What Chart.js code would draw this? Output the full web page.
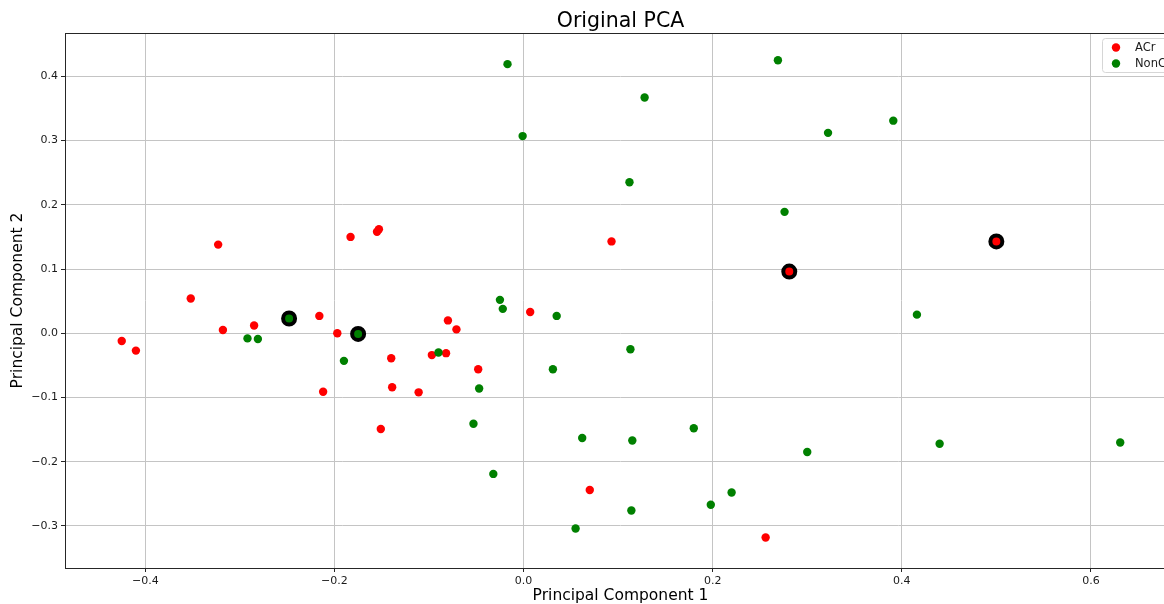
<!DOCTYPE html>
<html>
<head>
<meta charset="utf-8">
<script src="https://cdn.jsdelivr.net/npm/chart.js@4/dist/chart.umd.min.js"></script>
<style>
  html, body { margin: 0; padding: 0; background: #ffffff; overflow: hidden; }
  #c { display: block; }
</style>
</head>
<body>
<canvas id="c" width="1186" height="604"></canvas>
<script>
// PCA scores, class ACr
const acrPC1 = [-0.425, -0.410, -0.352, -0.323, -0.318, -0.285, -0.216, -0.212, -0.197, -0.183,
                -0.155, -0.153, -0.151, -0.140, -0.139, -0.111, -0.097, -0.082, -0.080, -0.071,
                -0.048, 0.007, 0.093, 0.070, 0.256];
const acrPC2 = [-0.012, -0.027, 0.054, 0.138, 0.005, 0.012, 0.027, -0.091, 0.000, 0.150,
                0.158, 0.162, -0.149, -0.039, -0.084, -0.092, -0.034, -0.031, 0.020, 0.006,
                -0.056, 0.033, 0.143, -0.244, -0.318];

// PCA scores, class NonCr
const nonCrPC1 = [-0.292, -0.281, -0.190, -0.090, -0.047, -0.053, -0.025, -0.022, 0.035, 0.031,
                  -0.032, 0.062, -0.017, 0.128, -0.001, 0.112, 0.115, 0.180, 0.114, 0.055,
                  0.198, 0.220, 0.269, 0.322, 0.391, 0.276, 0.416, 0.300, 0.440, 0.631, 0.113];
const nonCrPC2 = [-0.008, -0.009, -0.043, -0.030, -0.086, -0.141, 0.052, 0.038, 0.027, -0.056,
                  -0.219, -0.163, 0.419, 0.367, 0.307, 0.235, -0.167, -0.148, -0.276, -0.304,
                  -0.267, -0.248, 0.425, 0.312, 0.331, 0.189, 0.029, -0.185, -0.172, -0.170, -0.025];

// Selected samples, drawn with a black ring
const selectedPC1 = [-0.248, -0.175, 0.281, 0.500];
const selectedPC2 = [0.023, -0.001, 0.096, 0.143];
const selectedClass = ['NonCr', 'NonCr', 'ACr', 'ACr'];

// Legend entries, in display order
const legendLabels = ['ACr', 'NonCr'];

// Axis settings
const pc1Range = [-0.485, 0.690];
const pc2Range = [-0.3655, 0.4675];
const pc1Step = 0.2;
const pc2Step = 0.1;

const classColors = { ACr: '#ff0000', NonCr: '#008000' };
const FONT = "'DejaVu Sans', 'Liberation Sans', sans-serif";

const toPoints = (xs, ys) => xs.map((x, i) => ({ x: x, y: ys[i] }));
const fmtTick = v => {
  if (Math.abs(v) < 1e-9) return '0.0';
  return v.toFixed(1).replace('-', '\u2212');
};

// Frame around the plot area (matplotlib-style spines)
const framePlugin = {
  id: 'frame',
  afterDatasetsDraw(chart) {
    const a = chart.chartArea, ctx = chart.ctx;
    ctx.save();
    ctx.strokeStyle = '#262626';
    ctx.lineWidth = 1;
    ctx.strokeRect(Math.round(a.left) + 0.5, Math.round(a.top) + 0.5,
                   Math.round(a.right - a.left), Math.round(a.bottom - a.top));
    ctx.restore();
  }
};

// Title centred over the plot area
const titlePlugin = {
  id: 'plotTitle',
  afterDraw(chart) {
    const a = chart.chartArea, ctx = chart.ctx;
    ctx.save();
    ctx.fillStyle = '#000';
    ctx.font = '20.5px ' + FONT;
    ctx.textAlign = 'center';
    ctx.textBaseline = 'alphabetic';
    ctx.fillText('Original PCA', (a.left + a.right) / 2, 27);
    ctx.restore();
  }
};

// Legend box in the upper right of the plot area
const legendPlugin = {
  id: 'boxLegend',
  afterDraw(chart) {
    const a = chart.chartArea, ctx = chart.ctx;
    const x0 = 1102, y0 = 38, w = a.right - 5.5 - x0, rowH = 16;
    const h = 6 + rowH * legendLabels.length - 4;
    ctx.save();
    ctx.beginPath();
    ctx.roundRect(x0 + 0.5, y0 + 0.5, w, h, 3);
    ctx.fillStyle = 'rgba(255,255,255,0.8)';
    ctx.fill();
    ctx.strokeStyle = '#d6d6d6';
    ctx.lineWidth = 1;
    ctx.stroke();
    ctx.font = '11.5px ' + FONT;
    ctx.textBaseline = 'middle';
    ctx.textAlign = 'left';
    legendLabels.forEach((label, i) => {
      const cy = y0 + 9.5 + i * rowH;
      ctx.beginPath();
      ctx.arc(x0 + 14, cy, 4.2, 0, Math.PI * 2);
      ctx.fillStyle = classColors[label];
      ctx.fill();
      ctx.fillStyle = '#1a1a1a';
      ctx.fillText(label, x0 + 33, cy + 0.5);
    });
    ctx.restore();
  }
};

new Chart(document.getElementById('c'), {
  type: 'scatter',
  data: {
    datasets: [
      {
        label: 'Selected',
        data: toPoints(selectedPC1, selectedPC2),
        backgroundColor: selectedClass.map(c => classColors[c]),
        borderColor: '#000000',
        borderWidth: 4,
        pointRadius: 6,
        pointHoverRadius: 6,
        order: 0
      },
      {
        label: 'NonCr',
        data: toPoints(nonCrPC1, nonCrPC2),
        backgroundColor: classColors.NonCr,
        borderWidth: 0,
        pointRadius: 4.2,
        pointHoverRadius: 4.2,
        order: 1
      },
      {
        label: 'ACr',
        data: toPoints(acrPC1, acrPC2),
        backgroundColor: classColors.ACr,
        borderWidth: 0,
        pointRadius: 4.2,
        pointHoverRadius: 4.2,
        order: 2
      }
    ]
  },
  options: {
    responsive: false,
    animation: false,
    layout: { padding: { top: 33, right: 1, left: 0, bottom: 0 } },
    plugins: {
      legend: { display: false },
      tooltip: { enabled: false },
      title: { display: false }
    },
    scales: {
      x: {
        type: 'linear',
        position: 'bottom',
        min: pc1Range[0],
        max: pc1Range[1],
        border: { display: false },
        grid: { color: '#c4c4c4', lineWidth: 1, drawTicks: true, tickLength: 4, tickColor: '#262626' },
        ticks: {
          stepSize: pc1Step,
          includeBounds: false,
          padding: 3,
          color: '#1a1a1a',
          font: { family: FONT, size: 11 },
          maxRotation: 0,
          autoSkip: false,
          callback: v => fmtTick(v)
        },
        title: {
          display: true,
          text: 'Principal Component 1',
          color: '#000',
          font: { family: FONT, size: 15.5, lineHeight: 1.0 },
          padding: { top: 0, bottom: 0 }
        },
        afterFit(scale) { scale.height = 36; }
      },
      y: {
        type: 'linear',
        position: 'left',
        min: pc2Range[0],
        max: pc2Range[1],
        border: { display: false },
        grid: { color: '#c4c4c4', lineWidth: 1, drawTicks: true, tickLength: 4, tickColor: '#262626' },
        ticks: {
          stepSize: pc2Step,
          includeBounds: false,
          padding: 3,
          color: '#1a1a1a',
          font: { family: FONT, size: 11 },
          autoSkip: false,
          callback: v => fmtTick(v)
        },
        title: {
          display: true,
          text: 'Principal Component 2',
          color: '#000',
          font: { family: FONT, size: 15.5, lineHeight: 1.2 },
          padding: { top: 9, bottom: 0 }
        },
        afterFit(scale) { scale.width = 65; }
      }
    }
  },
  plugins: [framePlugin, titlePlugin, legendPlugin]
});
</script>
</body>
</html>
